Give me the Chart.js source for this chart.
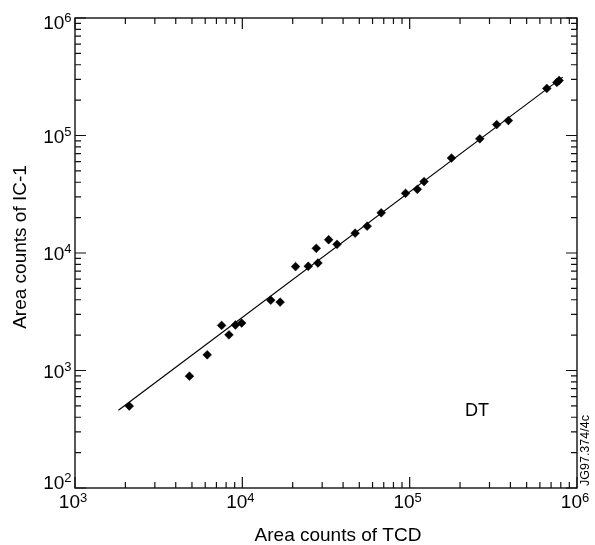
<!DOCTYPE html>
<html lang="en">
<head>
<meta charset="UTF-8">
<title>Area counts IC-1 vs TCD</title>
<script src="https://cdn.jsdelivr.net/npm/chart.js"></script>
<style>
  body { margin: 0; background: #fff; }
  canvas { display: block; }
</style>
</head>
<body>
<canvas id="chart" width="595" height="545"></canvas>
<script>
// measured peak areas, TCD detector (x) against IC-1 (y)
const tcdCounts = [2110, 4830, 6170, 7520, 8320, 9090, 9910, 14790, 16820, 20800, 24770, 27670, 28310,
  32800, 36800, 47200, 55700, 67600, 94500, 111100, 121900, 177800, 262500, 331000, 389000, 660000, 758000, 782000];
const ic1Counts = [498, 895, 1360, 2420, 2010, 2440, 2535, 3970, 3820, 7660, 7710, 10970, 8220,
  12970, 11860, 14760, 16930, 21980, 32200, 34850, 40550, 64300, 93700, 123800, 134000, 251700, 283000, 294000];

// fitted line, end points
const fitX = [1818, 822000];
const fitY = [458, 314000];

const xDecades = [3, 4, 5, 6];
const yDecades = [2, 3, 4, 5, 6];

const FONT = '"Liberation Sans", Arial, sans-serif';

function drawTicks(ctx, scale, horizontal, area) {
  const first = Math.log10(scale.min);
  const last = Math.log10(scale.max);
  ctx.beginPath();
  for (let d = first; d <= last; d++) {
    for (let k = 1; k <= 9; k++) {
      if (d === last && k > 1) break;
      const p = scale.getPixelForValue(k * Math.pow(10, d));
      const len = k === 1 ? 11 : 6;
      if (horizontal) {
        ctx.moveTo(p, area.bottom); ctx.lineTo(p, area.bottom - len);
        ctx.moveTo(p, area.top); ctx.lineTo(p, area.top + len);
      } else {
        ctx.moveTo(area.left, p); ctx.lineTo(area.left + len, p);
        ctx.moveTo(area.right, p); ctx.lineTo(area.right - len, p);
      }
    }
  }
  ctx.stroke();
}

const framePlugin = {
  id: 'frame',
  afterDraw(chart) {
    const ctx = chart.ctx;
    const area = chart.chartArea;
    const xs = chart.scales.x;
    const ys = chart.scales.y;
    ctx.save();
    ctx.strokeStyle = '#111';
    ctx.lineWidth = 1.4;
    ctx.strokeRect(area.left, area.top, area.right - area.left, area.bottom - area.top);
    ctx.lineWidth = 1.2;
    drawTicks(ctx, xs, true, area);
    drawTicks(ctx, ys, false, area);

    ctx.fillStyle = '#000';
    const big = '19px ' + FONT;
    const sup = '13px ' + FONT;

    // x decade labels
    xDecades.forEach(e => {
      const p = xs.getPixelForValue(Math.pow(10, e));
      ctx.font = big;
      const w1 = ctx.measureText('10').width;
      ctx.font = sup;
      const w2 = ctx.measureText(String(e)).width;
      const x0 = p - 2 - (w1 + w2) / 2;
      ctx.textAlign = 'left';
      ctx.textBaseline = 'alphabetic';
      ctx.font = big;
      ctx.fillText('10', x0, area.bottom + 20);
      ctx.font = sup;
      ctx.fillText(String(e), x0 + w1, area.bottom + 14);
    });

    // y decade labels
    yDecades.forEach((e, i) => {
      const p = ys.getPixelForValue(Math.pow(10, e));
      let base = p + 7;
      if (i === 0) base = p + 1;
      if (i === yDecades.length - 1) base = p + 11;
      ctx.font = sup;
      const w2 = ctx.measureText(String(e)).width;
      ctx.font = big;
      const w1 = ctx.measureText('10').width;
      const xr = area.left - 3.5;
      ctx.textAlign = 'left';
      ctx.textBaseline = 'alphabetic';
      ctx.fillText('10', xr - w2 - w1, base);
      ctx.font = sup;
      ctx.fillText(String(e), xr - w2, base - 7);
    });

    // axis titles
    ctx.font = big;
    ctx.textAlign = 'center';
    ctx.fillText('Area counts of TCD', 338, 541);
    ctx.save();
    ctx.translate(25.5, 247);
    ctx.rotate(-Math.PI / 2);
    ctx.fillText('Area counts of IC-1', 0, 0);
    ctx.restore();

    // series label
    ctx.font = '18px ' + FONT;
    ctx.textAlign = 'left';
    ctx.fillText('DT', 465, 415.5);

    // figure id along the right edge
    ctx.save();
    ctx.translate(589, 486);
    ctx.rotate(-Math.PI / 2);
    ctx.font = '12.5px ' + FONT;
    ctx.fillText('JG97.374/4c', 0, 0);
    ctx.restore();
    ctx.restore();
  }
};

new Chart(document.getElementById('chart'), {
  type: 'scatter',
  data: {
    datasets: [
      {
        label: 'DT',
        data: tcdCounts.map((x, i) => ({ x: x, y: ic1Counts[i] })),
        pointStyle: 'rectRot',
        pointRadius: 4.4,
        backgroundColor: '#000',
        borderColor: '#000',
        borderWidth: 0.5
      },
      {
        label: 'fit',
        type: 'line',
        data: fitX.map((x, i) => ({ x: x, y: fitY[i] })),
        showLine: true,
        pointRadius: 0,
        borderColor: '#000',
        borderWidth: 1.2,
        fill: false
      }
    ]
  },
  options: {
    responsive: false,
    animation: false,
    layout: { autoPadding: false, padding: { left: 75, right: 18, top: 18, bottom: 57 } },
    plugins: { legend: { display: false }, tooltip: { enabled: false } },
    scales: {
      x: { type: 'logarithmic', min: 1e3, max: 1e6, display: false },
      y: { type: 'logarithmic', min: 1e2, max: 1e6, display: false }
    }
  },
  plugins: [framePlugin]
});
</script>
</body>
</html>
